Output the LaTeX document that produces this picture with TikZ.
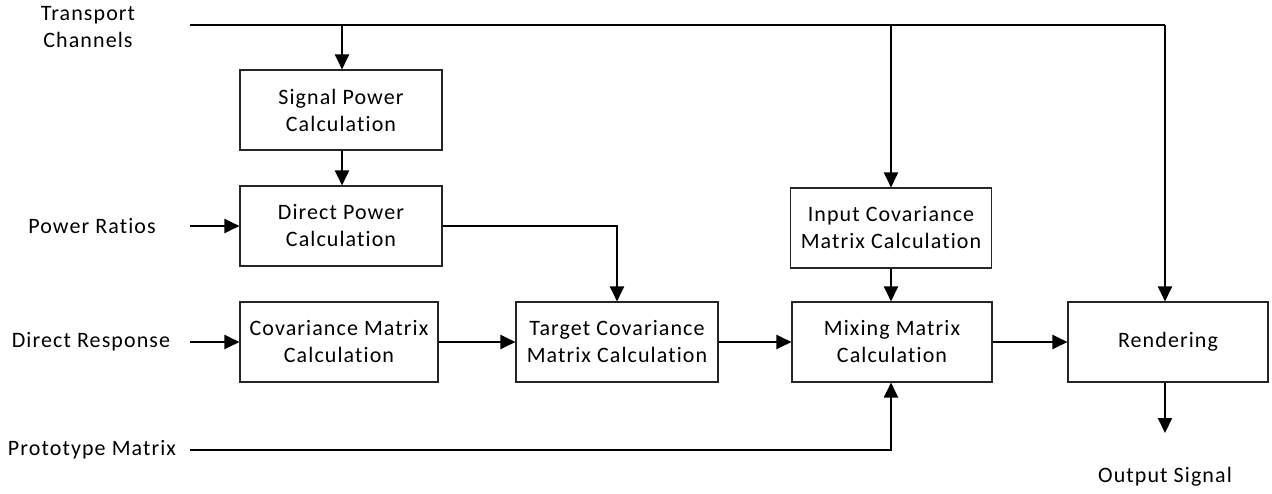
\documentclass[tikz,border=0pt]{standalone}
\usepackage{fontspec}
\setmainfont{Carlito}[LetterSpace=5,Ligatures={NoCommon}]
\usetikzlibrary{arrows.meta}
\begin{document}
\begin{tikzpicture}[x=1pt,y=-1pt,
  blk/.style={draw=black!85,line width=1.1pt,inner sep=0pt,minimum height=80pt,align=center,font=\fontsize{22}{27}\selectfont},
  lbl/.style={inner sep=0pt,align=center,font=\fontsize{22}{27}\selectfont},
  conn/.style={line width=2pt,-{Triangle[length=15pt,width=14pt]}},
  plain/.style={line width=2pt}]
\useasboundingbox (0,0) rectangle (1272,493);
% labels
\node[lbl] (tc) at (88,27) {Transport\\Channels};
\node[lbl] (pr) at (92,226) {Power Ratios};
\node[lbl] (dr) at (91,342) {Direct Response};
\node[lbl] (pm) at (92,450) {Prototype Matrix};
\node[lbl] (os) at (1165,477) {Output Signal};
% blocks
\node[blk,minimum width=202pt] (sig) at (341,110) {Signal Power\\Calculation};
\node[blk,minimum width=202pt] (dp) at (341,226) {Direct Power\\Calculation};
\node[blk,minimum width=198pt] (cov) at (339,342) {Covariance Matrix\\Calculation};
\node[blk,minimum width=202pt] (tgt) at (617,342) {Target Covariance\\Matrix Calculation};
\node[blk,minimum width=201pt] (inp) at (891,228) {Input Covariance\\Matrix Calculation};
\node[blk,minimum width=200pt] (mix) at (892,342) {Mixing Matrix\\Calculation};
\node[blk,minimum width=200pt] (rend) at (1168,342) {Rendering};
% coordinates
\coordinate (t0) at (190,25);
\coordinate (t1) at (342,25);
\coordinate (t2) at (891,25);
\coordinate (t3) at (1165,25);
\coordinate (prs) at (190,226);
\coordinate (drs) at (190,342);
\coordinate (pms) at (190,450);
\coordinate (oe) at (1165,433);
% connectors
\draw[plain] (t0) -- (t3);
\draw[conn] (t1) -- (t1 |- sig.north);
\draw[conn] (t2) -- (inp.north);
\draw[conn] (t3) -- (t3 |- rend.north);
\draw[conn] (sig.south -| t1) -- (dp.north -| t1);
\draw[conn] (prs) -- (dp.west);
\draw[conn] (drs) -- (cov.west);
\draw[conn] (dp.east) -| (tgt.north);
\draw[conn] (cov.east) -- (tgt.west);
\draw[conn] (tgt.east) -- (mix.west);
\draw[conn] (inp.south) -- (inp.south |- mix.north);
\draw[conn] (mix.east) -- (rend.west);
\draw[conn] (pms) -| (inp.south |- mix.south);
\draw[conn] (rend.south -| t3) -- (oe);
\end{tikzpicture}
\end{document}
